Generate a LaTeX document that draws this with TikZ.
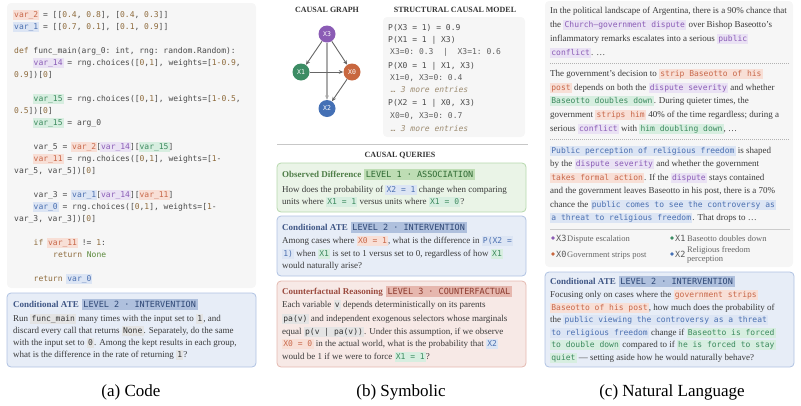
\documentclass[tikz,border=0pt]{standalone}
\usepackage{fontspec}
\setmainfont{Liberation Serif}
\setmonofont{DejaVu Sans Mono}
\usetikzlibrary{arrows.meta}

\definecolor{txt}{HTML}{3A3A3A}
\definecolor{codetxt}{HTML}{4A4A4A}
\definecolor{panelbg}{HTML}{F6F6F6}
\definecolor{kwcol}{HTML}{8E6B3C}
\definecolor{nonecol}{HTML}{5C8A3C}
\definecolor{moretxt}{HTML}{9C8B70}
\definecolor{orTx}{HTML}{C8684A}
\definecolor{orBg}{HTML}{F8DFD6}
\definecolor{blTx}{HTML}{4A6FB0}
\definecolor{blBg}{HTML}{DCE5F4}
\definecolor{grTx}{HTML}{3C8A5E}
\definecolor{grBg}{HTML}{D7EEE0}
\definecolor{puTx}{HTML}{8A5CB6}
\definecolor{puBg}{HTML}{EAE2F4}
\definecolor{gyTx}{HTML}{333333}
\definecolor{gyBg}{HTML}{E4E4E4}
% query boxes
\definecolor{assFill}{HTML}{EAF4E7}
\definecolor{assLine}{HTML}{B5D8AC}
\definecolor{assHead}{HTML}{4F7E48}
\definecolor{assTag}{HTML}{BEDDB4}
\definecolor{assTagTx}{HTML}{2F6A33}
\definecolor{intFill}{HTML}{E7EDF7}
\definecolor{intLine}{HTML}{AFC2E2}
\definecolor{intHead}{HTML}{3F5685}
\definecolor{intTag}{HTML}{AFC0DD}
\definecolor{intTagTx}{HTML}{2E4775}
\definecolor{cfFill}{HTML}{F7E9E6}
\definecolor{cfLine}{HTML}{E4B8AF}
\definecolor{cfHead}{HTML}{9B4B3F}
\definecolor{cfTag}{HTML}{E6B7AE}
\definecolor{cfTagTx}{HTML}{8B3A2E}
% graph nodes
\definecolor{nPu}{HTML}{8B5CB5}
\definecolor{nGr}{HTML}{3C8C64}
\definecolor{nOr}{HTML}{C8673F}
\definecolor{nBl}{HTML}{4470B5}

\newcommand{\inl}[3]{{\setlength{\fboxsep}{1.2pt}\colorbox{#2}{\color{#1}\ttfamily\fontsize{8}{9}\selectfont\vphantom{(Xg}#3}}}
\newcommand{\hlB}[1]{\inl{blTx}{blBg}{#1}}
\newcommand{\hlG}[1]{\inl{grTx}{grBg}{#1}}
\newcommand{\hlO}[1]{\inl{orTx}{orBg}{#1}}
\newcommand{\hlP}[1]{\inl{puTx}{puBg}{#1}}
\newcommand{\hlK}[1]{\inl{gyTx}{gyBg}{#1}}
\newcommand{\cvar}[3]{\hspace*{-1pt}{\setlength{\fboxsep}{1pt}\colorbox{#2}{\color{#1}\vphantom{(Xg}#3}}\hspace*{-1pt}}
\newcommand{\vB}[1]{\cvar{blTx}{blBg}{#1}}
\newcommand{\vG}[1]{\cvar{grTx}{grBg}{#1}}
\newcommand{\vO}[1]{\cvar{orTx}{orBg}{#1}}
\newcommand{\vP}[1]{\cvar{puTx}{puBg}{#1}}
\newcommand{\kw}[1]{\textcolor{kwcol}{#1}}
\newcommand{\nm}[1]{\textcolor{kwcol}{#1}}
\newcommand{\tagbox}[3]{{\setlength{\fboxsep}{1.6pt}\colorbox{#2}{\color{#1}\ttfamily\fontsize{8.5}{10}\selectfont\vphantom{(Xg}#3}}}
\newcommand{\qhead}[5]{\textcolor{#1}{\bfseries #2}\hspace{3pt}\tagbox{#3}{#4}{#5}}

\tikzset{
  ln/.style={anchor=base west, inner sep=0pt, text=txt, font=\fontsize{9}{11}\selectfont},
  cd/.style={anchor=base west, inner sep=0pt, text=codetxt, font=\ttfamily\fontsize{8}{10}\selectfont},
  cdsub/.style={cd, text=black!62},
  cdmore/.style={cd, text=moretxt, font=\ttfamily\itshape\fontsize{8}{10}\selectfont},
  hdr/.style={anchor=base, inner sep=0pt, text=black!80, font=\bfseries\fontsize{8}{10}\selectfont},
  gnode/.style={circle, minimum size=17pt, inner sep=0pt, text=white, font=\ttfamily\fontsize{6.5}{7}\selectfont},
  edge/.style={-{Stealth[length=4.5pt,width=3.8pt]}, draw=black!60, line width=0.9pt},
  qbox/.style={rounded corners=4pt, line width=0.8pt},
  dot/.style={circle, inner sep=0pt, minimum size=3.6pt},
  lgx/.style={anchor=base west, inner sep=0pt, text=black!65, font=\ttfamily\fontsize{8.5}{10}\selectfont},
  lgt/.style={anchor=base west, inner sep=0pt, text=black!60, font=\fontsize{8.5}{10}\selectfont},
  capt/.style={anchor=base, inner sep=0pt, text=black, font=\fontsize{17}{20}\selectfont}
}

\begin{document}
\begin{tikzpicture}[x=1pt,y=-1pt]
\useasboundingbox (0,0) rectangle (801,405);

% (a) code
\fill[panelbg, rounded corners=4pt] (7,3) rectangle (256,288);
\node[cd] (cl1) at (14,17) {\vO{var\_2} = [[\nm{0.4}, \nm{0.8}], [\nm{0.4}, \nm{0.3}]]};
\node[cd] (cl2) at (14,29) {\vB{var\_1} = [[\nm{0.7}, \nm{0.1}], [\nm{0.1}, \nm{0.9}]]};
\node[cd] (cl3) at (14,53) {\kw{def} func\_main(arg\_0: int, rng: random.Random):};
\node[cd] (cl4) at (33.5,65) {\vP{var\_14} = rng.choices([\nm{0},\nm{1}], weights=[\nm{1-0.9},};
\node[cd] (cl5) at (14,77) {\nm{0.9}])[\nm{0}]};
\node[cd] (cl6) at (33.5,101) {\vG{var\_15} = rng.choices([\nm{0},\nm{1}], weights=[\nm{1-0.5},};
\node[cd] (cl7) at (14,113) {\nm{0.5}])[\nm{0}]};
\node[cd] (cl8) at (33.5,125) {\vG{var\_15} = arg\_0};
\node[cd] (cl9) at (33.5,149) {var\_5 = \vO{var\_2}[\vP{var\_14}][\vG{var\_15}]};
\node[cd] (cl10) at (33.5,161) {\vO{var\_11} = rng.choices([\nm{0},\nm{1}], weights=[\nm{1}-};
\node[cd] (cl11) at (14,173) {var\_5, var\_5])[\nm{0}]};
\node[cd] (cl12) at (33.5,197) {var\_3 = \vB{var\_1}[\vP{var\_14}][\vO{var\_11}]};
\node[cd] (cl13) at (33.5,209) {\vB{var\_0} = rng.choices([\nm{0},\nm{1}], weights=[\nm{1}-};
\node[cd] (cl14) at (14,221) {var\_3, var\_3])[\nm{0}]};
\node[cd] (cl15) at (33.5,245) {\kw{if} \vO{var\_11} != \nm{1}:};
\node[cd] (cl16) at (53,257) {\kw{return} \textcolor{nonecol}{None}};
\node[cd] (cl17) at (33.5,281) {\kw{return} \vB{var\_0}};

\draw[qbox, fill=intFill, draw=intLine] (7,293) rectangle (256,367);
\node[ln] (aq0) at (13,307) {\qhead{intHead}{Conditional ATE}{intTagTx}{intTag}{LEVEL 2 · INTERVENTION}};
\node[ln] (aq1) at (13,321) {Run \hlK{func\_main} many times with the input set to \hlK{1}, and};
\node[ln] (aq2) at (13,333) {discard every call that returns \hlK{None}. Separately, do the same};
\node[ln] (aq3) at (13,345) {with the input set to \hlK{0}. Among the kept results in each group,};
\node[ln] (aq4) at (13,357) {what is the difference in the rate of returning \hlK{1}?};

% (b) symbolic
\node[hdr] (hgraph) at (327,12) {CAUSAL GRAPH};
\node[hdr] (hscm) at (455,12) {STRUCTURAL CAUSAL MODEL};

\node[gnode, fill=nPu] (x3) at (327,34) {X3};
\node[gnode, fill=nGr] (x1) at (301,72) {X1};
\node[gnode, fill=nOr] (x0) at (352,72) {X0};
\node[gnode, fill=nBl] (x2) at (327,108.5) {X2};
\draw[edge, draw=black!33, line width=1.2pt] (x3) -- (x2);
\draw[edge] (x3) -- (x1);
\draw[edge] (x3) -- (x0);
\draw[edge] (x1) -- (x0);
\draw[edge] (x0) -- (x2);

\fill[panelbg, rounded corners=4pt] (383,17) rectangle (525,137);
\node[cd] (s1) at (388,30) {P(X3 = 1) = 0.9};
\node[cd] (s2) at (388,42) {P(X1 = 1 | X3)};
\node[cdsub] (s3) at (390,54) {X3=0: 0.3\ \ |\ \ X3=1: 0.6};
\node[cd] (s4) at (388,68) {P(X0 = 1 | X1, X3)};
\node[cdsub] (s5) at (390,80) {X1=0, X3=0: 0.4};
\node[cdmore] (s6) at (391,92) {… 3 more entries};
\node[cd] (s7) at (388,105) {P(X2 = 1 | X0, X3)};
\node[cdsub] (s8) at (390,118) {X0=0, X3=0: 0.7};
\node[cdmore] (s9) at (391,131) {… 3 more entries};

\draw[black!22, line width=0.8pt] (277,144) -- (528,144);
\node[hdr] (hq) at (400,157) {CAUSAL QUERIES};

\draw[qbox, fill=assFill, draw=assLine] (277,163) rectangle (526,212);
\node[ln] (bq0) at (282,177) {\qhead{assHead}{Observed Difference}{assTagTx}{assTag}{LEVEL 1 · ASSOCIATION}};
\node[ln] (bq1) at (282,192) {How does the probability of \hlB{X2 = 1} change when comparing};
\node[ln] (bq2) at (282,204) {units where \hlG{X1 = 1} versus units where \hlG{X1 = 0}?};

\draw[qbox, fill=intFill, draw=intLine] (277,216) rectangle (526,276);
\node[ln] (bi0) at (282,230) {\qhead{intHead}{Conditional ATE}{intTagTx}{intTag}{LEVEL 2 · INTERVENTION}};
\node[ln] (bi1) at (282,243) {Among cases where \hlO{X0 = 1}, what is the difference in \hlB{P(X2 =}};
\node[ln] (bi2) at (282,256) {\hlB{1)} when \hlG{X1} is set to 1 versus set to 0, regardless of how \hlG{X1}};
\node[ln] (bi3) at (282,268) {would naturally arise?};

\draw[qbox, fill=cfFill, draw=cfLine] (277,281) rectangle (526,367);
\node[ln] (bc0) at (282,294) {\qhead{cfHead}{Counterfactual Reasoning}{cfTagTx}{cfTag}{LEVEL 3 · COUNTERFACTUAL}};
\node[ln] (bc1) at (282,307) {Each variable \hlK{v} depends deterministically on its parents};
\node[ln] (bc2) at (282,321) {\hlK{pa(v)} and independent exogenous selectors whose marginals};
\node[ln] (bc3) at (282,334) {equal \hlK{p(v | pa(v))}. Under this assumption, if we observe};
\node[ln] (bc4) at (282,346) {\hlO{X0 = 0} in the actual world, what is the probability that \hlB{X2}};
\node[ln] (bc5) at (282,359) {would be 1 if we were to force \hlG{X1 = 1}?};

% (c) natural language
\fill[panelbg, rounded corners=4pt] (545,1) rectangle (793,267);
\node[ln] (p1) at (550,13) {In the political landscape of Argentina, there is a 90\% chance that};
\node[ln] (p2) at (550,27) {the \hlP{Church–government dispute} over Bishop Baseotto’s};
\node[ln] (p3) at (550,41) {inflammatory remarks escalates into a serious \hlP{public}};
\node[ln] (p4) at (550,55) {\hlP{conflict}. …};
\draw[black!30, dash pattern=on 1pt off 1pt] (550,63) -- (790,63);
\node[ln] (p5) at (550,76) {The government’s decision to \hlO{strip Baseotto of his}};
\node[ln] (p6) at (550,90) {\hlO{post} depends on both the \hlP{dispute severity} and whether};
\node[ln] (p7) at (550,103) {\hlG{Baseotto doubles down}. During quieter times, the};
\node[ln] (p8) at (550,117) {government \hlO{strips him} 40\% of the time regardless; during a};
\node[ln] (p9) at (550,131) {serious \hlP{conflict} with \hlG{him doubling down}, …};
\draw[black!30, dash pattern=on 1pt off 1pt] (550,139) -- (790,139);
\node[ln] (p10) at (550,153) {\hlB{Public perception of religious freedom} is shaped};
\node[ln] (p11) at (550,166) {by the \hlP{dispute severity} and whether the government};
\node[ln] (p12) at (550,180) {\hlO{takes formal action}. If the \hlP{dispute} stays contained};
\node[ln] (p13) at (550,193) {and the government leaves Baseotto in his post, there is a 70\%};
\node[ln] (p14) at (550,207) {chance the \hlB{public comes to see the controversy as}};
\node[ln] (p15) at (550,220) {\hlB{a threat to religious freedom}. That drops to …};
\draw[black!20, line width=0.8pt] (550,229) -- (790,229);

\node[dot, fill=nPu] (d3) at (553,238) {};
\node[lgx] (l3) at (556,241) {X3};
\node[lgt] (l3t) at (567,241) {Dispute escalation};
\node[dot, fill=nGr] (d1) at (672,238) {};
\node[lgx] (l1) at (675,241) {X1};
\node[lgt] (l1t) at (687,241) {Baseotto doubles down};
\node[dot, fill=nOr] (d0) at (553,254) {};
\node[lgx] (l0) at (556,257) {X0};
\node[lgt] (l0t) at (567,257) {Government strips post};
\node[dot, fill=nBl] (d2) at (672,254) {};
\node[lgx] (l2) at (675,257) {X2};
\node[lgt] (l2t) at (687,252) {Religious freedom};
\node[lgt] (l2u) at (687,261) {perception};

\draw[qbox, fill=intFill, draw=intLine] (545,272) rectangle (794,367);
\node[ln] (cq0) at (550,284) {\qhead{intHead}{Conditional ATE}{intTagTx}{intTag}{LEVEL 2 · INTERVENTION}};
\node[ln] (cq1) at (550,297) {Focusing only on cases where the \hlO{government strips}};
\node[ln] (cq2) at (550,310) {\hlO{Baseotto of his post}, how much does the probability of};
\node[ln] (cq3) at (550,322) {the \hlB{public viewing the controversy as a threat}};
\node[ln] (cq4) at (550,335) {\hlB{to religious freedom} change if \hlG{Baseotto is forced}};
\node[ln] (cq5) at (550,347) {\hlG{to double down} compared to if \hlG{he is forced to stay}};
\node[ln] (cq6) at (550,360) {\hlG{quiet} — setting aside how he would naturally behave?};

% captions
\node[capt] (capa) at (131,396) {(a) Code};
\node[capt] (capb) at (401,396) {(b) Symbolic};
\node[capt] (capc) at (672,396) {(c) Natural Language};
\end{tikzpicture}
\end{document}
